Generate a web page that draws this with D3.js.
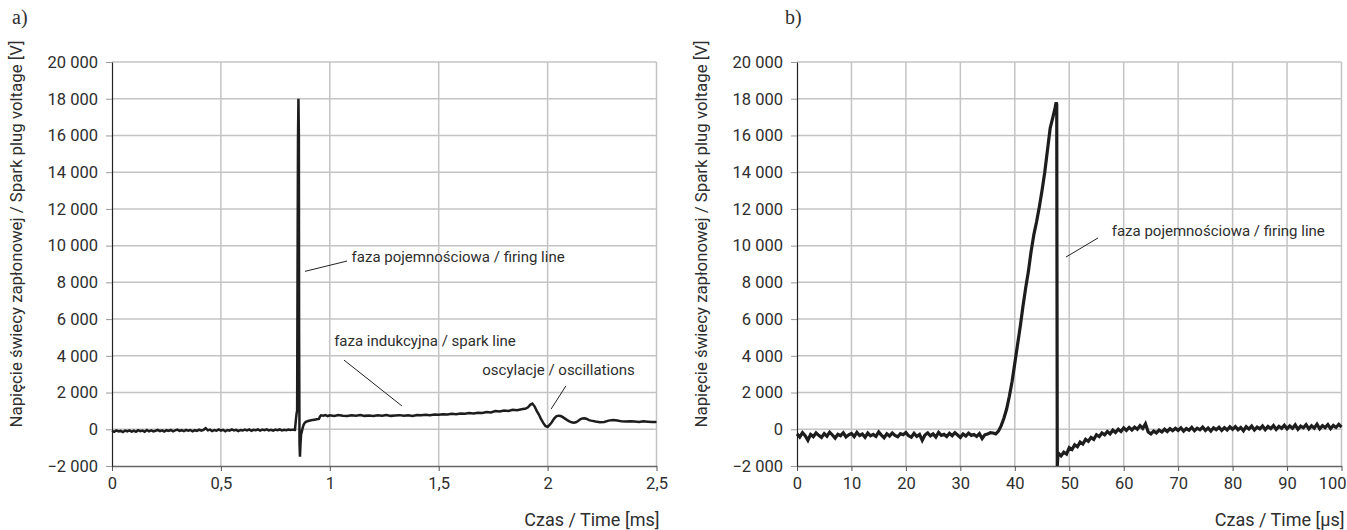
<!DOCTYPE html>
<html>
<head>
<meta charset="utf-8">
<script src="https://cdn.jsdelivr.net/npm/d3@7"></script>
<style>
  body { margin: 0; background: #fff; }
  svg text { font-family: Roboto, "Liberation Sans", sans-serif; fill: #2e2e2e; }
</style>
</head>
<body>
<div id="chart"></div>
<script>
// ---- data ----
const yTicks = [-2000, 0, 2000, 4000, 6000, 8000, 10000, 12000, 14000, 16000, 18000, 20000];
const xTicksA = [0, 0.5, 1, 1.5, 2, 2.5];
const xTicksB = [0, 10, 20, 30, 40, 50, 60, 70, 80, 90, 100];

// panel a) : [time ms, voltage V]
const traceA = [
  [0.00,-80],[0.01,-140],[0.02,-60],[0.03,-120],[0.04,-90],[0.05,-150],[0.06,-70],[0.07,-110],[0.08,-60],[0.09,-130],
  [0.10,-80],[0.11,-140],[0.12,-50],[0.13,-100],[0.14,-70],[0.15,-130],[0.16,-40],[0.17,-110],[0.18,-60],[0.19,-120],
  [0.20,-80],[0.21,-30],[0.22,-100],[0.23,-60],[0.24,-120],[0.25,-50],[0.26,-90],[0.27,-40],[0.28,-110],[0.29,-60],
  [0.30,-20],[0.31,-90],[0.32,-50],[0.33,-100],[0.34,-30],[0.35,-80],[0.36,-40],[0.37,-110],[0.38,-50],[0.39,-90],
  [0.40,-20],[0.41,-70],[0.42,-30],[0.43,60],[0.44,-60],[0.45,-20],[0.46,-100],[0.47,-40],[0.48,-80],[0.49,-10],
  [0.50,-70],[0.51,-30],[0.52,-110],[0.53,-40],[0.54,-70],[0.55,-10],[0.56,-60],[0.57,-30],[0.58,-100],[0.59,-40],
  [0.60,-70],[0.61,-20],[0.62,-60],[0.63,-10],[0.64,-80],[0.65,-30],[0.66,-50],[0.67,-10],[0.68,-70],[0.69,-20],
  [0.70,-50],[0.71,0],[0.72,-60],[0.73,-30],[0.74,-70],[0.75,-20],[0.76,-50],[0.77,-10],[0.78,-60],[0.79,-30],
  [0.80,-50],[0.81,-10],[0.82,-40],[0.83,-20],[0.84,-30],[0.845,600],[0.848,900],[0.850,1000],[0.852,9000],
  [0.854,15800],[0.856,18000],[0.858,16000],[0.859,5400],[0.861,-800],[0.863,-1500],[0.865,-900],[0.868,-300],
  [0.872,-100],[0.876,100],[0.880,250],[0.885,350],[0.89,400],[0.90,450],[0.91,480],[0.92,500],[0.93,520],
  [0.94,540],[0.95,560],[0.955,700],[0.96,760],[0.97,740],[0.98,770],[0.99,720],
  [1.00,760],[1.02,730],[1.04,770],[1.06,740],[1.08,720],[1.10,760],[1.12,740],[1.14,770],[1.16,730],[1.18,750],
  [1.20,720],[1.22,760],[1.24,740],[1.26,780],[1.28,730],[1.30,750],[1.32,770],[1.34,740],[1.36,760],[1.38,730],
  [1.40,780],[1.42,760],[1.44,790],[1.46,770],[1.48,800],[1.50,790],[1.52,820],[1.54,800],[1.56,840],[1.58,820],
  [1.60,860],[1.62,840],[1.64,880],[1.66,860],[1.68,900],[1.70,890],[1.72,940],[1.74,920],[1.76,990],[1.78,970],
  [1.80,1020],[1.82,1000],[1.84,1060],[1.86,1040],[1.88,1090],[1.90,1130],[1.91,1200],[1.92,1330],[1.93,1400],
  [1.94,1250],[1.95,1000],[1.96,800],[1.97,550],[1.98,350],[1.99,180],[2.00,120],[2.01,250],[2.02,400],[2.03,580],
  [2.04,700],[2.05,740],[2.06,720],[2.07,660],[2.08,580],[2.09,500],[2.10,430],[2.11,380],[2.12,360],[2.13,380],
  [2.14,450],[2.15,540],[2.16,590],[2.17,600],[2.18,560],[2.19,500],[2.20,470],[2.22,420],[2.24,380],[2.26,400],
  [2.28,470],[2.30,510],[2.32,480],[2.34,430],[2.36,420],[2.38,440],[2.40,420],[2.42,400],[2.44,430],[2.46,410],
  [2.48,390],[2.50,400]
];

// panel b) : [time µs, voltage V]
const traceB = [
  [0,-250],[0.5,-420],[1,-180],[1.5,-350],[2,-600],[2.5,-280],[3,-400],[3.5,-200],[4,-330],[4.5,-450],
  [5,-240],[5.5,-380],[6,-160],[6.5,-310],[7,-480],[7.5,-270],[8,-350],[8.5,-190],[9,-420],[9.5,-300],
  [10,-230],[10.5,-400],[11,-170],[11.5,-340],[12,-260],[12.5,-440],[13,-210],[13.5,-360],[14,-280],[14.5,-390],
  [15,-150],[15.5,-320],[16,-460],[16.5,-250],[17,-370],[17.5,-200],[18,-330],[18.5,-410],[19,-240],[19.5,-300],
  [20,-180],[20.5,-350],[21,-430],[21.5,-220],[22,-390],[22.5,-280],[23,-600],[23.5,-310],[24,-200],[24.5,-360],
  [25,-250],[25.5,-420],[26,-170],[26.5,-330],[27,-280],[27.5,-400],[28,-220],[28.5,-350],[29,-190],[29.5,-310],
  [30,-440],[30.5,-260],[31,-370],[31.5,-210],[32,-330],[32.5,-280],[33,-390],[33.5,-240],[34,-500],[34.5,-300],
  [35,-260],[35.5,-180],[36,-200],[36.5,-250],[37,-100],[37.5,200],[38,600],[38.5,1100],[39,1800],[39.5,2600],
  [40,3600],[40.5,4600],[41,5600],[41.5,6700],[42,7700],[42.5,8600],[43,9700],[43.5,10600],[44,11300],[44.5,12100],
  [45,13000],[45.5,14000],[46,15200],[46.5,16400],[47,17000],[47.4,17500],[47.6,17800],[47.7,17700],[47.75,7800],
  [47.8,-2000],[47.9,-1500],[48,-1300],[48.5,-1450],[49,-1250],[49.5,-1350],[50,-1000],[50.5,-1100],[51,-850],
  [51.5,-950],[52,-700],[52.5,-800],[53,-550],[53.5,-650],[54,-450],[54.5,-550],[55,-300],[55.5,-400],[56,-200],
  [56.5,-300],[57,-120],[57.5,-250],[58,-50],[58.5,-180],[59,0],[59.5,-120],[60,80],[60.5,-60],[61,100],
  [61.5,-40],[62,120],[62.5,0],[63,200],[63.5,50],[64,300],[64.5,-150],[65,-250],[65.5,-100],[66,-200],
  [66.5,-50],[67,-150],[67.5,0],[68,-120],[68.5,30],[69,-80],[69.5,50],[70,-60],[70.5,80],[71,-100],
  [71.5,40],[72,-50],[72.5,100],[73,-80],[73.5,60],[74,-30],[74.5,120],[75,-60],[75.5,70],[76,-100],
  [76.5,80],[77,-20],[77.5,110],[78,-60],[78.5,90],[79,-40],[79.5,130],[80,0],[80.5,150],[81,-30],
  [81.5,100],[82,-80],[82.5,140],[83,10],[83.5,170],[84,-40],[84.5,120],[85,20],[85.5,180],[86,-20],
  [86.5,150],[87,40],[87.5,200],[88,-10],[88.5,160],[89,50],[89.5,220],[90,30],[90.5,180],[91,60],
  [91.5,240],[92,0],[92.5,170],[93,80],[93.5,250],[94,20],[94.5,190],[95,60],[95.5,280],[96,30],
  [96.5,200],[97,90],[97.5,260],[98,40],[98.5,210],[99,100],[99.5,270],[100,120]
];

// annotations: label anchor and leader line ends, in data units
const notesA = [
  { text: "faza pojemnościowa / firing line", t: 1.10, v: 9300, t1: 0.886, v1: 8600, t2: 1.079, v2: 9160 },
  { text: "faza indukcyjna / spark line", t: 1.02, v: 4750, t1: 1.065, v1: 3770, t2: 1.331, v2: 1270 },
  { text: "oscylacje / oscillations", t: 1.70, v: 3170, t1: 2.084, v1: 2360, t2: 2.016, v2: 1100 }
];
const notesB = [
  { text: "faza pojemnościowa / firing line", t: 57.8, v: 10740, t1: 49.4, v1: 9380, t2: 55.3, v2: 10420 }
];

const yTitle = "Napięcie świecy zapłonowej / Spark plug voltage [V]";

/*******************************/
/*    Declare the constants    */
/*******************************/
const width = 1347;
const height = 530;
const plotTop = 62;
const plotBottom = 466;
const plotWidth = 544.5;

const svg = d3.select("#chart")
  .append("svg")
  .attr("width", width)
  .attr("height", height);

const yScale = d3.scaleLinear()
  .domain([-2000, 20000])
  .range([plotBottom, plotTop]);

const fmtY = d => d3.format(",")(d).replace(/,/g, " ").replace("-", "\u2212");
const fmtX = d => String(d).replace(".", ",");

const panels = [
  { letter: "a)", letterX: 12, left: 112, titleX: 18, trace: traceA, lineWidth: 2.5, domain: [0, 2.5], ticks: xTicksA, xTitle: "Czas / Time [ms]", notes: notesA },
  { letter: "b)", letterX: 785, left: 797, titleX: 703, trace: traceB, lineWidth: 3.2, domain: [0, 100], ticks: xTicksB, xTitle: "Czas / Time [µs]", notes: notesB }
];

panels.forEach(p => {
  const xScale = d3.scaleLinear()
    .domain(p.domain)
    .range([p.left, p.left + plotWidth]);

  const g = svg.append("g");

  // grid
  g.append("g")
    .selectAll("line")
    .data(p.ticks.slice(1))
    .join("line")
    .attr("x1", d => xScale(d)).attr("x2", d => xScale(d))
    .attr("y1", plotTop).attr("y2", plotBottom)
    .attr("stroke", "#c4c4c4").attr("stroke-width", 1.5);
  g.append("g")
    .selectAll("line")
    .data(yTicks.slice(1))
    .join("line")
    .attr("x1", xScale.range()[0]).attr("x2", xScale.range()[1])
    .attr("y1", d => yScale(d)).attr("y2", d => yScale(d))
    .attr("stroke", "#c4c4c4").attr("stroke-width", 1.5);

  // axes
  const bottomAxis = d3.axisBottom(xScale)
    .tickValues(p.ticks)
    .tickFormat(fmtX)
    .tickSize(5)
    .tickPadding(6)
    .tickSizeOuter(0);
  const xAxis = g.append("g")
    .attr("transform", `translate(0, ${plotBottom})`)
    .call(bottomAxis);
  xAxis.select(".domain").attr("stroke", "#666").attr("stroke-width", 1.5);
  xAxis.selectAll(".tick line").attr("stroke", "#555");
  xAxis.selectAll("text").attr("font-size", 16.5).attr("fill", "#2e2e2e");
  // keep the last label inside the page
  xAxis.selectAll(".tick text")
    .filter(d => xScale(d) + 14 > width)
    .attr("text-anchor", "end")
    .attr("dx", width - 1 - xScale.range()[1]);

  const leftAxis = d3.axisLeft(yScale)
    .tickValues(yTicks)
    .tickFormat(fmtY)
    .tickSize(6)
    .tickPadding(8)
    .tickSizeOuter(0);
  const yAxis = g.append("g")
    .attr("transform", `translate(${p.left}, 0)`)
    .call(leftAxis);
  yAxis.select(".domain").attr("stroke", "#222").attr("stroke-width", 1.2);
  yAxis.selectAll(".tick line").attr("stroke", "#999");
  yAxis.selectAll("text").attr("font-size", 16.5).attr("fill", "#2e2e2e");

  // trace
  const line = d3.line()
    .x(d => xScale(d[0]))
    .y(d => yScale(d[1]));
  g.append("path")
    .datum(p.trace)
    .attr("d", line)
    .attr("fill", "none")
    .attr("stroke", "#1d1d1d")
    .attr("stroke-width", p.lineWidth);

  // annotations
  p.notes.forEach(n => {
    g.append("line")
      .attr("x1", xScale(n.t1)).attr("y1", yScale(n.v1))
      .attr("x2", xScale(n.t2)).attr("y2", yScale(n.v2))
      .attr("stroke", "#222").attr("stroke-width", 1);
    g.append("text")
      .text(n.text)
      .attr("x", xScale(n.t))
      .attr("y", yScale(n.v))
      .attr("dominant-baseline", "middle")
      .attr("font-size", 15);
  });

  // titles
  g.append("text")
    .text(p.xTitle)
    .attr("text-anchor", "end")
    .attr("x", Math.min(xScale.range()[1] + 3, width - 2))
    .attr("y", 526)
    .attr("font-size", 18);

  g.append("text")
    .text(yTitle)
    .attr("text-anchor", "middle")
    .attr("transform", `translate(${p.titleX}, 234) rotate(-90)`)
    .attr("dominant-baseline", "middle")
    .attr("font-size", 16.8);

  g.append("text")
    .text(p.letter)
    .attr("x", p.letterX)
    .attr("y", 24)
    .attr("font-size", 20)
    .style("font-family", "'Liberation Serif', 'DejaVu Serif', serif")
    .attr("fill", "#111");
});
</script>
</body>
</html>
